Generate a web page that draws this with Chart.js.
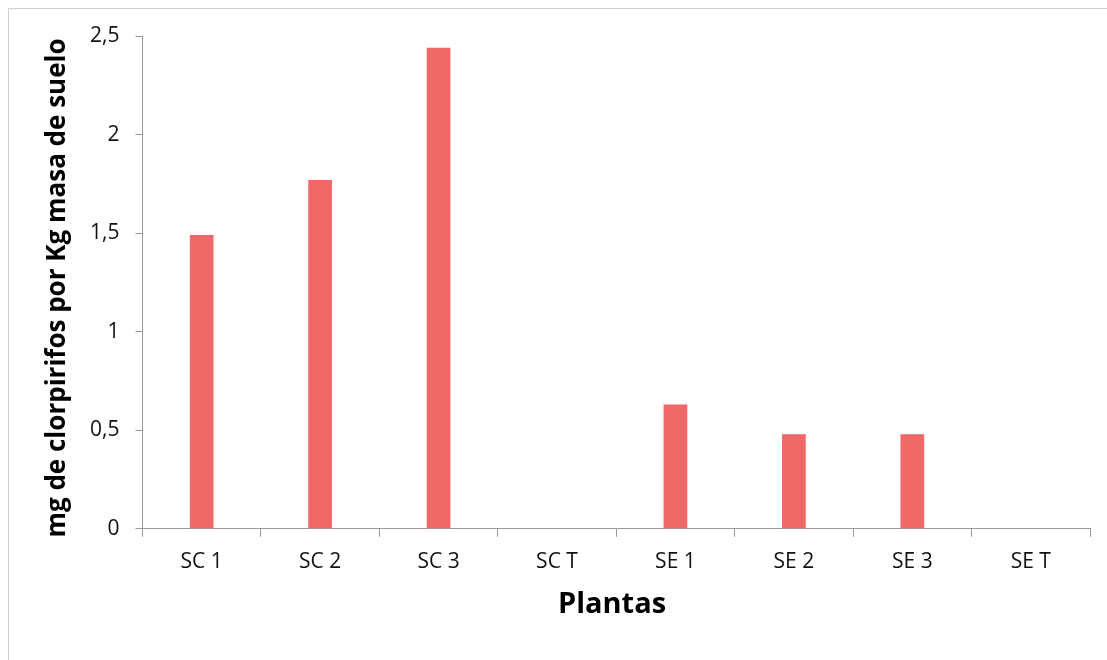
<!DOCTYPE html>
<html>
<head>
<meta charset="utf-8">
<script src="https://cdn.jsdelivr.net/npm/chart.js@4"></script>
<style>
  html, body { margin: 0; padding: 0; background: #fff; }
  #wrap { position: relative; width: 1107px; height: 660px; overflow: hidden; }
  #frame { position: absolute; left: 8px; top: 8px; width: 1120px; height: 670px; border: 1px solid #d0d0d0; box-sizing: border-box; pointer-events: none; }
  canvas { display: block; }
</style>
</head>
<body>
<div id="wrap">
  <canvas id="c" width="1107" height="660"></canvas>
  <div id="frame"></div>
</div>
<script>
const categories = ['SC 1', 'SC 2', 'SC 3', 'SC T', 'SE 1', 'SE 2', 'SE 3', 'SE T'];
const values = [1.49, 1.77, 2.44, 0, 0.63, 0.48, 0.48, 0];
const yTicks = [0, 0.5, 1, 1.5, 2, 2.5];
const yTickLabels = ['0', '0,5', '1', '1,5', '2', '2,5'];
const xTitle = 'Plantas';
const yTitle = 'mg de clorpirifos por Kg masa de suelo';

const FONT = "'Open Sans', 'Liberation Sans', sans-serif";

const titlePlugin = {
  id: 'titles',
  afterDraw(chart) {
    const ctx = chart.ctx;
    ctx.save();
    ctx.fillStyle = '#000';
    ctx.textAlign = 'center';
    ctx.textBaseline = 'middle';
    ctx.font = 'bold 29px ' + FONT;
    ctx.fillText(xTitle, 612, 605);
    ctx.translate(58, 288);
    ctx.rotate(-Math.PI / 2);
    ctx.font = 'bold 26px ' + FONT;
    ctx.fillText(yTitle, 0, 0);
    ctx.restore();
  }
};

new Chart(document.getElementById('c'), {
  type: 'bar',
  data: {
    labels: categories,
    datasets: [{
      data: values,
      backgroundColor: '#EF6767',
      borderWidth: 0,
      barPercentage: 0.2,
      categoryPercentage: 1.0
    }]
  },
  options: {
    responsive: false,
    animation: false,
    layout: { padding: { left: 74, right: 17, top: 36, bottom: 72 } },
    plugins: { legend: { display: false }, tooltip: { enabled: false } },
    scales: {
      x: {
        offset: true,
        grid: { display: true, drawOnChartArea: false, offset: true, tickLength: 8, color: '#999' },
        border: { color: '#999' },
        ticks: { color: '#111', font: { family: FONT, size: 21 }, padding: 13 }
      },
      y: {
        min: 0, max: 2.5,
        afterBuildTicks: (axis) => { axis.ticks = yTicks.map(v => ({ value: v })); },
        grid: { display: true, drawOnChartArea: false, tickLength: 7, color: '#999' },
        border: { color: '#999' },
        ticks: {
          color: '#111', font: { family: FONT, size: 21 }, padding: 16,
          callback: (v) => { const i = yTicks.indexOf(v); return i >= 0 ? yTickLabels[i] : ''; }
        }
      }
    }
  },
  plugins: [titlePlugin]
});
</script>
</body>
</html>
